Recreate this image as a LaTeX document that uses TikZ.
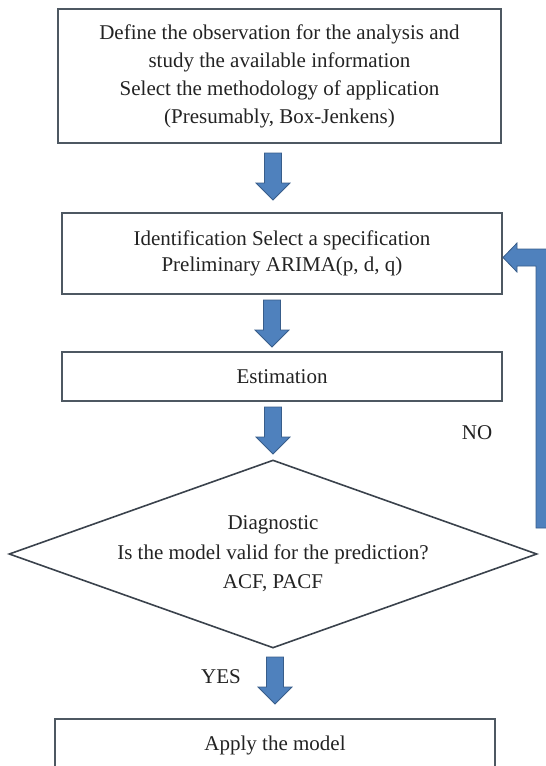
\documentclass[tikz,border=0pt]{standalone}
\usepackage{fontspec}
\setmainfont{Liberation Serif}
\usetikzlibrary{shapes.geometric}
\definecolor{boxline}{RGB}{78,88,98}
\definecolor{decline}{RGB}{58,66,76}
\definecolor{arrfill}{RGB}{79,129,189}
\definecolor{arredge}{RGB}{56,93,138}
\definecolor{txtcol}{RGB}{35,35,35}
\begin{document}
\begin{tikzpicture}[x=1pt,y=-1pt,
        boxsty/.style={rectangle,draw=boxline,line width=2pt,inner sep=0pt,
            text=txtcol,align=center,font=\fontsize{21}{28}\selectfont},
        decsty/.style={diamond,draw=decline,line width=1.6pt,inner sep=0pt,
            minimum width=528pt,minimum height=188pt},
        txtsty/.style={text=txtcol,align=center,inner sep=0pt,
            font=\fontsize{21}{28}\selectfont},
        arrsty/.style={fill=arrfill,draw=arredge,line width=0.8pt},
        blockdown/.pic={
            \path[arrsty] (-8.5,0) -- (8.5,0) -- (8.5,30) -- (17,30) -- (0,47)
                -- (-17,30) -- (-8.5,30) -- cycle;
        },
    ]
    \useasboundingbox (0,0) rectangle (546,766);
    \clip (0,0) rectangle (546,766);
    \node (obs) at (279.5,76) [boxsty,minimum width=443pt,minimum height=134pt]
        {Define the observation for the analysis and\\study the available information\\
         Select the methodology of application\\(Presumably, Box-Jenkens)};
    \node (ident) at (282,253.5) [boxsty,minimum width=440pt,minimum height=81pt,
        font=\fontsize{21}{26}\selectfont]
        {Identification Select a specification\\Preliminary ARIMA(p, d, q)};
    \node (estim) at (282,376.5) [boxsty,minimum width=440pt,minimum height=49pt] {Estimation};
    \node (diag) at (273,554) [decsty] {};
    \node (diagtxt) at (diag.center) [txtsty,font=\fontsize{21}{29.5}\selectfont]
        {Diagnostic\\Is the model valid for the prediction?\\ACF, PACF};
    \node (apply) at (275,745) [boxsty,minimum width=440pt,minimum height=52pt] {Apply the model};
    \node (no) at (477,433) [txtsty] {NO};
    \node (yes) at (221,677) [txtsty] {YES};
    \foreach \ax/\ay in {273/153,272/300,273/407,275/657}{
        \pic at (\ax,\ay) {blockdown};
    }
    % NO branch back to identification
    \path[arrsty] (536,528) -- (536,266) -- (517,266) -- (517,272) -- (503,257.5)
        -- (517,243) -- (517,249) -- (553,249) -- (553,528) -- cycle;
\end{tikzpicture}
\end{document}
